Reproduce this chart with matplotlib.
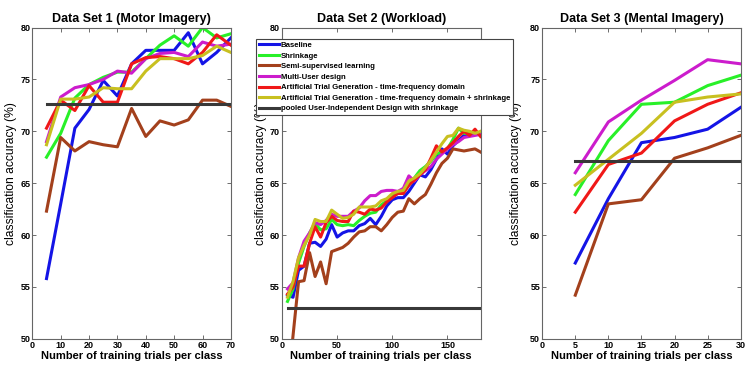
import numpy as np
import matplotlib
matplotlib.use('Agg')
import matplotlib.pyplot as plt

plt.rcParams['font.family'] = ['Liberation Sans', 'DejaVu Sans']

labels = ['Baseline', 'Shrinkage', 'Semi-supervised learning', 'Multi-User design',
          'Artificial Trial Generation - time-frequency domain',
          'Artificial Trial Generation - time-frequency domain + shrinkage',
          'pooled User-Independent Design with shrinkage']
colors = ['#1414e6', '#28f028', '#a3401c', '#cc1ccc', '#f01818', '#c8c020', '#383838']
titles = ['Data Set 1 (Motor Imagery)', 'Data Set 2 (Workload)', 'Data Set 3 (Mental Imagery)']

# Data set 1 (motor imagery)
x1 = np.arange(5, 75, 5)
ds1_baseline = [55.8, 63.0, 70.3, 72.1, 74.9, 73.4, 76.5, 77.8, 77.8, 77.8, 79.5, 76.5, 77.6, 79.0]
ds1_shrink = [67.5, 69.8, 73.2, 74.5, 75.2, 75.7, 75.7, 77.0, 78.3, 79.2, 78.2, 80.0, 79.0, 79.4]
ds1_semi = [62.3, 69.4, 68.1, 69.0, 68.7, 68.5, 72.2, 69.5, 71.0, 70.6, 71.1, 73.0, 73.0, 72.4]
ds1_multi = [69.0, 73.3, 74.2, 74.5, 75.0, 75.8, 75.6, 77.0, 77.5, 77.6, 77.2, 78.6, 78.2, 78.4]
ds1_atg = [70.3, 73.0, 72.0, 74.4, 72.8, 72.8, 76.5, 77.1, 77.2, 77.0, 76.5, 77.6, 79.3, 78.3]
ds1_atg_shrink = [68.7, 73.1, 73.1, 73.3, 74.2, 74.1, 74.1, 75.8, 77.0, 77.0, 77.0, 77.3, 78.2, 77.6]
ds1_pooled = 72.6

# Data set 2 (workload)
x2 = np.arange(5, 185, 5)
ds2_baseline = [54.2, 54.0, 56.6, 57.0, 59.2, 59.3, 58.9, 59.6, 61.0, 59.8, 60.2, 60.4,
                60.4, 60.9, 61.1, 61.6, 61.0, 61.8, 62.8, 63.4, 63.6, 63.6, 64.2, 65.0,
                65.8, 65.6, 66.3, 67.3, 68.3, 67.8, 68.6, 69.1, 69.6, 69.6, 69.9, 69.6]
ds2_shrink = [53.6, 54.8, 57.3, 58.9, 60.2, 61.1, 60.5, 60.6, 61.5, 61.0, 60.9, 61.0,
              60.9, 61.4, 61.8, 62.1, 62.2, 62.9, 63.3, 63.7, 64.1, 64.2, 64.8, 65.5,
              66.2, 66.6, 67.1, 67.8, 68.0, 68.3, 69.2, 70.3, 69.8, 69.8, 69.9, 69.8]
ds2_semi = [45.0, 50.3, 55.5, 55.6, 58.3, 56.0, 57.4, 55.3, 58.4, 58.6, 58.8, 59.2,
            59.8, 60.3, 60.4, 60.8, 60.8, 60.4, 61.0, 61.7, 62.2, 62.3, 63.5, 63.0,
            63.5, 63.9, 64.9, 66.0, 66.9, 67.4, 68.3, 68.2, 68.1, 68.2, 68.3, 68.0]
ds2_multi = [54.8, 55.4, 57.8, 59.4, 60.2, 61.2, 61.0, 61.4, 62.0, 61.8, 61.8, 61.8,
             62.3, 62.6, 63.3, 63.8, 63.8, 64.2, 64.3, 64.3, 64.2, 64.5, 65.7, 65.2,
             65.8, 66.2, 66.6, 67.3, 67.8, 68.3, 68.7, 69.0, 69.4, 69.5, 69.6, 69.7]
ds2_atg = [54.3, 55.0, 57.0, 57.0, 59.2, 60.8, 59.8, 61.2, 61.8, 61.4, 61.3, 61.3,
           62.3, 62.2, 62.0, 62.5, 62.4, 62.6, 63.2, 63.6, 64.0, 64.0, 64.8, 65.3,
           65.8, 66.3, 67.4, 68.6, 68.0, 68.4, 68.9, 69.5, 70.0, 69.6, 70.2, 69.5]
ds2_atg_shrink = [54.0, 55.5, 57.8, 59.0, 60.0, 61.5, 61.3, 61.3, 62.4, 62.0, 61.6, 61.7,
                  62.0, 62.7, 62.7, 62.7, 62.8, 63.3, 63.5, 64.0, 64.2, 64.3, 65.2, 65.5,
                  65.9, 66.5, 67.2, 68.0, 68.8, 69.5, 69.6, 70.3, 70.1, 70.0, 69.8, 70.0]
ds2_pooled = 53.0

# Data set 3 (mental imagery)
x3 = np.arange(5, 35, 5)
ds3_baseline = [57.3, 63.5, 68.9, 69.4, 70.2, 72.3]
ds3_shrink = [63.9, 69.1, 72.6, 72.8, 74.4, 75.4]
ds3_semi = [54.2, 63.0, 63.4, 67.4, 68.4, 69.6]
ds3_multi = [66.0, 70.9, 73.0, 74.9, 76.9, 76.5]
ds3_atg = [62.2, 66.8, 67.9, 71.0, 72.6, 73.7]
ds3_atg_shrink = [64.8, 67.3, 69.8, 72.8, 73.3, 73.6]
ds3_pooled = 67.1

panels = [
    (x1, [ds1_baseline, ds1_shrink, ds1_semi, ds1_multi, ds1_atg, ds1_atg_shrink], ds1_pooled,
     70, np.arange(0, 71, 10)),
    (x2, [ds2_baseline, ds2_shrink, ds2_semi, ds2_multi, ds2_atg, ds2_atg_shrink], ds2_pooled,
     180, [0, 50, 100, 150]),
    (x3, [ds3_baseline, ds3_shrink, ds3_semi, ds3_multi, ds3_atg, ds3_atg_shrink], ds3_pooled,
     30, np.arange(0, 31, 5)),
]

fig = plt.figure(figsize=(7.52, 3.67), dpi=100)
lefts = [0.043, 0.375, 0.721]
handles = []
for i, (x, series, pooled, xmax, xticks) in enumerate(panels):
    ax = fig.add_axes([lefts[i], 0.077, 0.264, 0.848])
    hs = []
    for s, c, lab in zip(series, colors, labels):
        h, = ax.plot(x, s, color=c, lw=2.2, label=lab)
        hs.append(h)
    h, = ax.plot([x[0], x[-1]], [pooled, pooled], color=colors[6], lw=2.2, label=labels[6])
    hs.append(h)
    if i == 0:
        handles = hs
    ax.set_xlim(0, xmax)
    ax.set_ylim(50, 80)
    ax.set_xticks(xticks)
    ax.set_yticks(np.arange(50, 81, 5))
    ax.tick_params(direction='in', top=True, right=True, length=3, width=0.6,
                   labelsize=6.5, pad=1.5, color='#555555')
    for t in ax.get_xticklabels() + ax.get_yticklabels():
        t.set_fontweight('bold')
    for sp in ax.spines.values():
        sp.set_color('#666666')
        sp.set_linewidth(0.8)
    ax.set_title(titles[i], fontsize=9, fontweight='bold', pad=4)
    ax.set_xlabel('Number of training trials per class', fontsize=8, fontweight='bold', labelpad=1)
    ax.set_ylabel('classification accuracy (%)', fontsize=8.7, labelpad=2)
    ax.yaxis.set_label_coords(-0.075 if i < 2 else -0.1, 0.53)

leg = fig.legend(handles, labels, loc='upper left', bbox_to_anchor=(252 / 752, 1 - 35 / 367),
                 bbox_transform=fig.transFigure, prop={'weight': 'bold', 'size': 5.6},
                 handlelength=2.6, handletextpad=0.25, labelspacing=0.4, borderpad=0.35,
                 fancybox=False, framealpha=1, edgecolor='#444444')
leg.get_frame().set_linewidth(0.8)
leg.set_zorder(10)

fig.savefig('out.png', dpi=100)
